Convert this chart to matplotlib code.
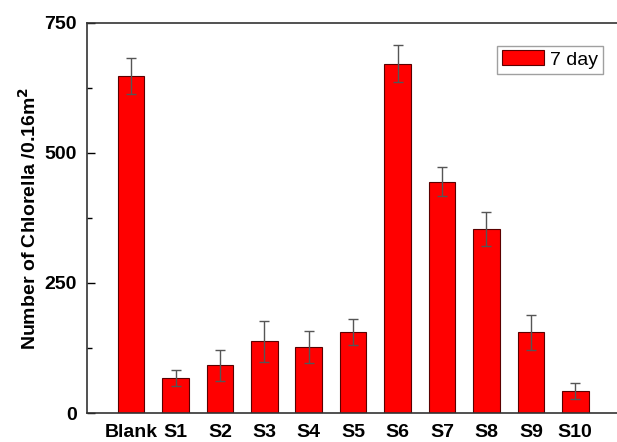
import matplotlib.pyplot as plt
from matplotlib.ticker import MultipleLocator, AutoMinorLocator

plt.rcParams['font.family'] = ['Liberation Sans', 'DejaVu Sans']

# chlorella counts after 7 days, with standard deviation
samples = ["Blank", "S1", "S2", "S3", "S4", "S5", "S6", "S7", "S8", "S9", "S10"]
counts = [648, 67, 92, 138, 127, 155, 672, 445, 354, 155, 42]
errors = [35, 15, 30, 39, 30, 25, 35, 28, 33, 34, 15]

fig = plt.figure(figsize=(6.17, 4.42), dpi=100)
ax = fig.add_axes([0.1405, 0.0656, 0.8638, 0.8824])

x = range(len(samples))
ax.bar(x, counts, width=0.6, color="#ff0000", edgecolor="#5a0000", linewidth=0.8,
       yerr=errors, capsize=3.5,
       error_kw=dict(ecolor="#555555", elinewidth=1.0, capthick=1.0),
       label="7 day")

ax.set_xlim(-1.0, 11.0)
ax.set_ylim(0, 750)
ax.yaxis.set_major_locator(MultipleLocator(250))
ax.yaxis.set_minor_locator(AutoMinorLocator(2))

ax.set_xticks(list(x))
ax.set_xticklabels(samples, fontsize=14, fontweight="bold")
ax.tick_params(axis="x", length=0, pad=8)
ax.tick_params(axis="y", which="major", direction="in", length=6, width=1.0, pad=7,
               labelsize=14)
ax.tick_params(axis="y", which="minor", direction="in", length=3.5, width=1.0)
plt.setp(ax.get_yticklabels(), fontweight="bold")

for s in ax.spines.values():
    s.set_linewidth(1.2)
    s.set_color("#333333")

ax.set_ylabel(r"Number of Chlorella /0.16m$^\mathbf{2}$", fontsize=14,
              fontweight="bold", labelpad=3)

leg = ax.legend(loc="upper right", bbox_to_anchor=(0.969, 0.942), borderaxespad=0,
                fontsize=14, frameon=True, fancybox=False, handlelength=2.2,
                handleheight=0.8, handletextpad=0.3, borderpad=0.25)
leg.get_frame().set_edgecolor("#888888")
leg.get_frame().set_linewidth(1.0)

plt.savefig("out.png", dpi=100)
